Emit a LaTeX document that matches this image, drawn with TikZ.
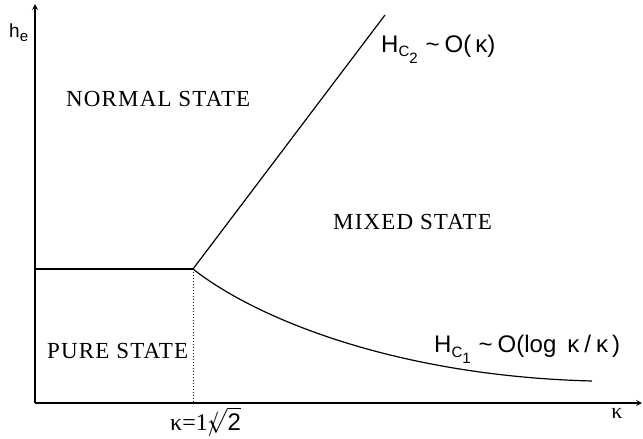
\documentclass[tikz,border=0pt]{standalone}
\usepackage{fontspec}
\setmainfont{Liberation Serif}
\newfontfamily\helv{Liberation Sans}
\newcommand{\subC}[1]{\raisebox{-5pt}{\fontsize{15}{15}\selectfont C\raisebox{-6pt}{#1}}}
\newcommand{\tild}{\hspace{8pt}{\fontsize{24}{24}\selectfont\textasciitilde}\hspace{5pt}}
\tikzset{
  region/.style={anchor=base west, inner sep=0pt, font=\fontsize{23}{25}\selectfont\addfontfeature{LetterSpace=5.0}},
  curvelabel/.style={anchor=base west, inner sep=0pt, font=\helv\fontsize{24}{26}\selectfont},
}
\begin{document}
\begin{tikzpicture}[x=1pt, y=-1pt, >=stealth]
  \useasboundingbox (0,0) rectangle (643,439);

  % Key points
  \coordinate (O) at (35,403);
  \coordinate (ytop) at (35,4);
  \coordinate (xend) at (642,403);
  \coordinate (T) at (193,269);
  \coordinate (C2end) at (385,15);
  \coordinate (C1end) at (592,381);
  \coordinate (left) at (35,269);

  % Axes
  \draw[->, line width=1.6pt] (O) -- (ytop);
  \draw[->, line width=1.6pt] (O) -- (xend);
  \node[anchor=base west, inner sep=0pt, font=\helv\fontsize{19}{20}\selectfont] (he) at (9,37) {h\raisebox{-5pt}{\fontsize{15}{15}\selectfont e}};
  \node[anchor=base, inner sep=0pt, font=\fontsize{22}{24}\selectfont] (kap) at (617,418) {κ};

  % Phase boundaries
  \draw[line width=1.2pt] (left) -- (T);
  \draw[line width=1.2pt] (T) -- (C2end);
  \draw[line width=1.2pt] (T) .. controls (255,318) and (395,376) .. (C1end);
  \draw[dotted, line width=1pt] (T) -- (T |- O);

  % Curve labels
  \node[curvelabel] (hc2) at (381,52) {H\subC{2}\tild O(\,κ)};
  \node[curvelabel] (hc1) at (434,352) {H\subC{1}\tild O(log\hspace{11pt}κ\hspace{5pt}/\hspace{5pt}κ\hspace{4pt})};

  % Regions
  \node[region] (normal) at (66,106) {NORMAL STATE};
  \node[region] (mixed) at (333,229) {MIXED STATE};
  \node[region] (pure) at (47,358) {PURE STATE};

  % Critical value
  \node[anchor=base west, inner sep=0pt, font=\fontsize{24}{26}\selectfont] (kc) at (170,430) {κ=1$/\!\!\!\sqrt{\mbox{\helv 2}}$};
\end{tikzpicture}
\end{document}
